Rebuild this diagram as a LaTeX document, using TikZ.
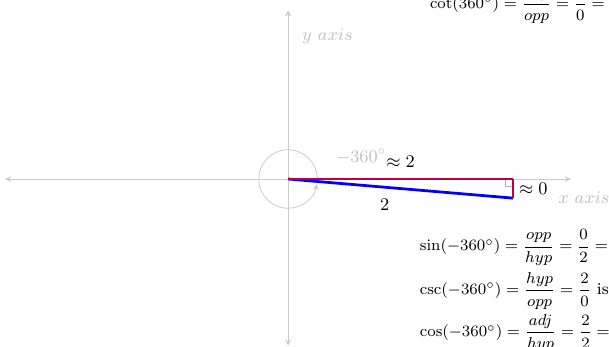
\documentclass[tikz,border=0pt]{standalone}
\usepackage{amsmath,amssymb}
\usepackage{tikz}
\usetikzlibrary{positioning,arrows.meta,calc}

\begin{document}
\begin{tikzpicture}[
		x=2cm, y=2cm, font=\small,
		axis/.style={->, >=stealth, gray!40},
		axislabel/.style={text=gray!50},
		leg/.style={line width=1.4pt, purple},
		hyp/.style={line width=1.4pt, blue},
		eq/.style={anchor=west, font=\fontsize{8.4}{10}\selectfont}
	]

	\useasboundingbox (-2.56,-1.493) rectangle (2.853,1.591);
	\clip (-2.56,-1.493) rectangle (2.853,1.591);

	% axes
	\coordinate (O) at (0,0);
	\coordinate (xl) at (-2.515,0);
	\coordinate (xr) at (2.515,0);
	\coordinate (yb) at (0,-1.48);
	\coordinate (yt) at (0,1.5);
	\draw[axis] (O) -- (xl);
	\draw[axis] (O) -- (xr);
	\draw[axis] (O) -- (yb);
	\draw[axis] (O) -- (yt);
	\node[axislabel] (xlabel) at (2.63,-0.17) {$x\ axis$};
	\node[axislabel] (ylabel) at (0.35,1.27) {$y\ axis$};

	% angle
	\draw[axis] (0:0.26) arc (0:350:0.26);
	\node[axislabel] (angle) at (0.65,0.2) {$-360^\circ$};

	% triangle
	\coordinate (A) at (2,0);
	\coordinate (P) at (2,-0.17);
	\draw[gray!60] ($(A)+(-0.07,0)$) rectangle ($(A)+(0,-0.07)$);
	\draw[hyp] (O) -- node[below, pos=0.43, yshift=-2pt, black] {$2$} (P);
	\draw[leg] (O) -- node[above, yshift=2pt, black] {$\approx 2$} (A);
	\draw[leg] (A) -- node[right, xshift=-1pt, black] {$\approx 0$} (P);

	% values
	\node[eq] (cot) at (1.2,1.547) {$\cot(360^\circ) = \dfrac{adj}{opp} = \dfrac{2}{0} = $ undefined};
	\node[eq] (sin) at (1.11,-0.612) {$\sin(-360^\circ) = \dfrac{opp}{hyp} = \dfrac{0}{2} = 0$};
	\node[eq] (csc) at (1.11,-0.994) {$\csc(-360^\circ) = \dfrac{hyp}{opp} = \dfrac{2}{0}$ is undefined};
	\node[eq] (cos) at (1.11,-1.37) {$\cos(-360^\circ) = \dfrac{adj}{hyp} = \dfrac{2}{2} = 1$};
\end{tikzpicture}
\end{document}
